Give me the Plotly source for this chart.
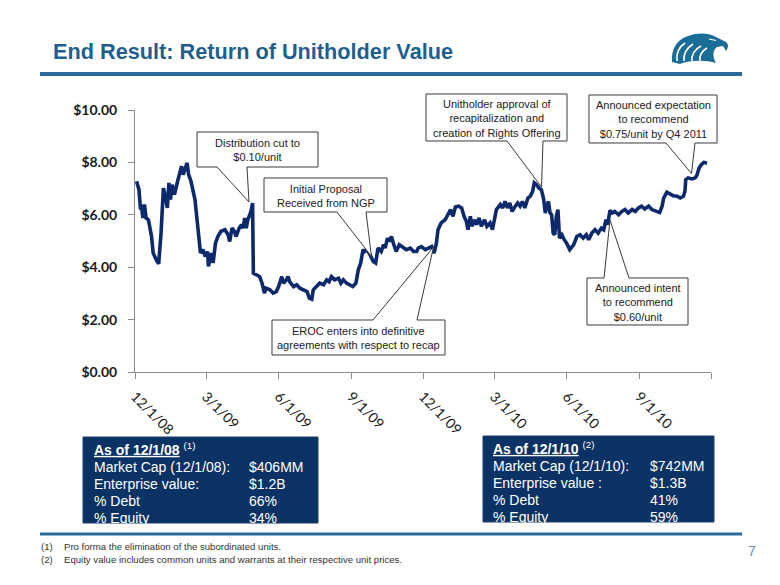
import plotly.graph_objects as go

# ---------------- data ----------------
dates = [
    "2008-12-03", "2008-12-06", "2008-12-08", "2008-12-09", "2008-12-11", "2008-12-13", "2008-12-15",
    "2008-12-18", "2008-12-22", "2008-12-24", "2008-12-28", "2008-12-31", "2009-01-03", "2009-01-06",
    "2009-01-08", "2009-01-11", "2009-01-13", "2009-01-15", "2009-01-17", "2009-01-20", "2009-01-24",
    "2009-01-27", "2009-01-29", "2009-01-31", "2009-02-03", "2009-02-05", "2009-02-07", "2009-02-10",
    "2009-02-15", "2009-02-19", "2009-02-22", "2009-02-25", "2009-02-28", "2009-03-03", "2009-03-04",
    "2009-03-08", "2009-03-10", "2009-03-13", "2009-03-16", "2009-03-20", "2009-03-25", "2009-03-29",
    "2009-03-31", "2009-04-03", "2009-04-06", "2009-04-08", "2009-04-12", "2009-04-15", "2009-04-17",
    "2009-04-19", "2009-04-21", "2009-04-23", "2009-04-27", "2009-04-29", "2009-04-30", "2009-05-04",
    "2009-05-08", "2009-05-11", "2009-05-14", "2009-05-16", "2009-05-21", "2009-05-25", "2009-05-29",
    "2009-06-01", "2009-06-05", "2009-06-07", "2009-06-11", "2009-06-13", "2009-06-15", "2009-06-20",
    "2009-06-24", "2009-06-28", "2009-07-02", "2009-07-07", "2009-07-10", "2009-07-13", "2009-07-15",
    "2009-07-19", "2009-07-23", "2009-07-28", "2009-08-01", "2009-08-04", "2009-08-07", "2009-08-11",
    "2009-08-16", "2009-08-19", "2009-08-22", "2009-08-26", "2009-08-30", "2009-09-03", "2009-09-07",
    "2009-09-10", "2009-09-13", "2009-09-16", "2009-09-18", "2009-09-21", "2009-09-25", "2009-09-29",
    "2009-10-02", "2009-10-05", "2009-10-09", "2009-10-12", "2009-10-14", "2009-10-17", "2009-10-19",
    "2009-10-22", "2009-10-25", "2009-10-28", "2009-11-01", "2009-11-05", "2009-11-10", "2009-11-15",
    "2009-11-19", "2009-11-23", "2009-11-25", "2009-11-29", "2009-12-04", "2009-12-08", "2009-12-12",
    "2009-12-15", "2009-12-18", "2009-12-20", "2009-12-24", "2009-12-29", "2010-01-02", "2010-01-05",
    "2010-01-08", "2010-01-11", "2010-01-15", "2010-01-19", "2010-01-22", "2010-01-25", "2010-01-27",
    "2010-01-30", "2010-02-01", "2010-02-04", "2010-02-07", "2010-02-10", "2010-02-13", "2010-02-17",
    "2010-02-20", "2010-02-24", "2010-02-27", "2010-03-01", "2010-03-04", "2010-03-09", "2010-03-12",
    "2010-03-15", "2010-03-18", "2010-03-21", "2010-03-24", "2010-03-28", "2010-03-31", "2010-04-03",
    "2010-04-06", "2010-04-09", "2010-04-13", "2010-04-16", "2010-04-19", "2010-04-21", "2010-04-24",
    "2010-04-27", "2010-04-30", "2010-05-03", "2010-05-05", "2010-05-07", "2010-05-09", "2010-05-11",
    "2010-05-13", "2010-05-15", "2010-05-17", "2010-05-19", "2010-05-21", "2010-05-23", "2010-05-26",
    "2010-05-29", "2010-06-01", "2010-06-05", "2010-06-10", "2010-06-14", "2010-06-18", "2010-06-22",
    "2010-06-26", "2010-06-29", "2010-07-03", "2010-07-07", "2010-07-11", "2010-07-15", "2010-07-18",
    "2010-07-21", "2010-07-23", "2010-07-26", "2010-07-29", "2010-08-01", "2010-08-06", "2010-08-10",
    "2010-08-14", "2010-08-18", "2010-08-23", "2010-08-27", "2010-08-31", "2010-09-04", "2010-09-08",
    "2010-09-13", "2010-09-17", "2010-09-23", "2010-09-27", "2010-09-30", "2010-10-02", "2010-10-06",
    "2010-10-10", "2010-10-14", "2010-10-19", "2010-10-23", "2010-10-27", "2010-10-29", "2010-10-30",
    "2010-11-02", "2010-11-07", "2010-11-11", "2010-11-13", "2010-11-16", "2010-11-19", "2010-11-22",
    "2010-11-26",
]
prices = [
    7.28, 6.96, 6.20, 6.39, 5.88, 6.39, 5.88,
    5.81, 5.17, 4.54, 4.28, 4.13, 5.30, 7.02,
    6.77, 6.26, 7.22, 6.58, 7.15, 6.77, 7.28,
    7.66, 7.85, 7.53, 7.85, 7.98, 7.53, 7.28,
    6.58, 5.43, 4.54, 4.67, 4.41, 4.60, 4.03,
    4.54, 4.16, 4.92, 5.17, 5.37, 5.43, 5.24,
    4.98, 5.49, 5.37, 5.17, 5.49, 5.62, 5.49,
    5.88, 5.49, 5.81, 6.13, 6.45, 3.77, 3.71,
    3.64, 3.39, 3.01, 3.20, 3.14, 3.01, 3.07,
    3.26, 3.64, 3.39, 3.52, 3.64, 3.45, 3.26,
    3.33, 3.20, 3.14, 3.07, 2.82, 2.78, 3.14,
    3.26, 3.39, 3.33, 3.52, 3.45, 3.64, 3.52,
    3.58, 3.39, 3.52, 3.39, 3.33, 3.26, 3.39,
    3.90, 4.16, 4.67, 4.60, 4.67, 4.47, 4.22,
    4.16, 4.73, 4.60, 4.86, 4.73, 5.11, 4.98,
    5.17, 4.86, 4.60, 4.86, 4.79, 4.67, 4.73,
    4.60, 4.60, 4.73, 4.79, 4.67, 4.73, 4.79,
    4.54, 4.92, 5.43, 5.69, 5.81, 6.07, 6.20,
    5.94, 6.30, 6.33, 6.26, 5.94, 5.75, 5.43,
    5.94, 5.56, 5.81, 5.62, 5.88, 5.56, 5.81,
    5.56, 5.69, 5.43, 5.81, 6.20, 6.39, 6.26,
    6.51, 6.26, 6.45, 6.13, 6.33, 6.45, 6.33,
    6.51, 6.26, 6.64, 6.71, 6.90, 7.22, 7.15,
    7.02, 6.96, 6.58, 6.07, 6.33, 6.51, 6.07,
    6.00, 5.30, 5.24, 5.94, 6.20, 5.11, 5.24,
    5.05, 4.92, 4.67, 4.86, 5.17, 5.24, 5.11,
    5.24, 5.05, 5.30, 5.43, 5.30, 5.49, 5.43,
    5.81, 5.62, 6.17, 6.07, 6.13, 6.00, 6.13,
    6.20, 6.07, 6.20, 6.13, 6.26, 6.33, 6.22,
    6.33, 6.20, 6.13, 6.09, 6.33, 6.64, 6.86,
    6.81, 6.73, 6.71, 6.64, 6.71, 6.90, 7.34,
    7.41, 7.37, 7.41, 7.50, 7.79, 7.92, 8.00,
    7.98,
]
tick_dates = ["2008-12-01", "2009-03-01", "2009-06-01", "2009-09-01", "2009-12-01",
              "2010-03-01", "2010-06-01", "2010-09-01"]
tick_labels = ["12/1/08", "3/1/09", "6/1/09", "9/1/09", "12/1/09", "3/1/10", "6/1/10", "9/1/10"]
end_tick = ["2010-12-01"]
y_ticks = [0, 2, 4, 6, 8, 10]
y_tick_labels = ["$0.00", "$2.00", "$4.00", "$6.00", "$8.00", "$10.00"]

callout_texts = [
    "Distribution cut to<br>$0.10/unit",
    "Initial Proposal<br>Received from NGP",
    "EROC enters into definitive<br>agreements with respect to recap",
    "Unitholder approval of<br>recapitalization and<br>creation of Rights Offering",
    "Announced expectation<br>to recommend<br>$0.75/unit by Q4 2011",
    "Announced intent<br>to recommend<br>$0.60/unit",
]

box1_title = "<b><u>As of 12/1/08</u></b> <sup>(1)</sup>"
box1_labels = ["Market Cap (12/1/08):", "Enterprise value:", "% Debt", "% Equity"]
box1_values = ["$406MM", "$1.2B", "66%", "34%"]
box2_title = "<b><u>As of 12/1/10</u></b> <sup>(2)</sup>"
box2_labels = ["Market Cap (12/1/10):", "Enterprise value :", "% Debt", "% Equity"]
box2_values = ["$742MM", "$1.3B", "41%", "59%"]

footnotes = ["Pro forma the elimination of the subordinated units.",
             "Equity value includes common units and warrants at their respective unit prices."]

# ---------------- layout helpers (reference pixel -> paper) ----------------
OFF = 8                      # default body margin of the html page
W, H = 780 - OFF, 585 - OFF
PL, PR, PT, PB = 135, 711, 110, 372   # plot area in page pixels


def fx(px):
    return (px - PL) / (PR - PL)


def fy(py):
    return (PB - py) / (PB - PT)


def path(points):
    s = ""
    for i, (px, py) in enumerate(points):
        s += ("M" if i == 0 else "L") + f"{fx(px):.5f},{fy(py):.5f} "
    return s + "Z"


TITLE_BLUE = "#1f5f8f"
RULE_BLUE = "#2a6a9b"
NAVY = "#0b3264"
LINE = "#0c2a6b"
FONT = "Liberation Sans, Arial, sans-serif"
AXFONT = "Lato, Carlito, Calibri, sans-serif"

fig = go.Figure()
fig.add_trace(go.Scatter(x=dates, y=prices, mode="lines",
                         line=dict(color=LINE, width=3.6), hoverinfo="skip", showlegend=False))

shapes = []
annotations = []

# title + rules
annotations.append(dict(text="<b>End Result: Return of Unitholder Value</b>", x=fx(51), y=fy(52),
                        xref="paper", yref="paper", xanchor="left", yanchor="middle", showarrow=False,
                        font=dict(family=FONT, size=21.7, color=TITLE_BLUE)))
shapes.append(dict(type="line", xref="paper", yref="paper", x0=fx(40), x1=fx(742), y0=fy(74), y1=fy(74),
                   line=dict(color=RULE_BLUE, width=4)))
shapes.append(dict(type="line", xref="paper", yref="paper", x0=fx(40), x1=fx(742), y0=fy(534), y1=fy(534),
                   line=dict(color=RULE_BLUE, width=3)))

# eagle logo
eagle = ("M{} C{} {} {} C{} {} {} L{} C{} {} {} L{} L{} C{} {} {} C{} {} {} Z")
pts = [(672, 62), (671, 50), (676, 40), (688, 36), (698, 32), (710, 33), (716, 37), (724, 41),
       (729, 43), (729, 47), (726, 51), (723, 46), (717, 47), (713, 50), (712, 56), (716, 63),
       (706, 60), (690, 60), (680, 64)]
ppts = [f"{fx(a):.5f},{fy(b):.5f}" for a, b in pts]
shapes.append(dict(type="path", xref="paper", yref="paper", path=eagle.format(*ppts),
                   fillcolor="#1a6d96", line=dict(width=0)))
for (a0, b0), (a1, b1), (a2, b2), (a3, b3) in [
        ((677, 61), (676, 53), (679, 47), (685, 43)),
        ((684, 61), (683, 54), (687, 48), (693, 44)),
        ((692, 61), (691, 55), (695, 49), (701, 46)),
        ((700, 61), (699, 56), (702, 51), (707, 48))]:
    shapes.append(dict(type="path", xref="paper", yref="paper",
                       path=f"M{fx(a0):.5f},{fy(b0):.5f} C{fx(a1):.5f},{fy(b1):.5f} {fx(a2):.5f},{fy(b2):.5f} {fx(a3):.5f},{fy(b3):.5f}",
                       line=dict(color="white", width=1.6)))
shapes.append(dict(type="path", xref="paper", yref="paper",
                   path=f"M{fx(709):.5f},{fy(39):.5f} L{fx(716):.5f},{fy(40.5):.5f}",
                   line=dict(color="white", width=1.2)))

# callouts: box (x0,y0,x1,y1), wedge side, wedge base x0/x1, tip
callouts = [
    ((197, 132, 318, 167), "bottom", 217, 247, (249, 202)),
    ((264, 178, 387, 212), "bottom", 337, 366, (371.5, 256.5)),
    ((272, 320, 445, 355), "top", 373, 417, (433.5, 247)),
    ((426, 94, 567, 141), "bottom", 507, 543, (541.5, 187)),
    ((589, 95, 717, 143), "bottom", 666, 695, (691.5, 173.5)),
    ((587, 278, 688, 325), "top", 604, 629, (610, 220)),
]
for (bx0, by0, bx1, by1), side, w0, w1, (tx, ty) in callouts:
    if side == "bottom":
        pts = [(bx0, by0), (bx1, by0), (bx1, by1), (w1, by1), (tx, ty), (w0, by1), (bx0, by1)]
    else:
        pts = [(bx0, by0), (w0, by0), (tx, ty), (w1, by0), (bx1, by0), (bx1, by1), (bx0, by1)]
    shapes.append(dict(type="path", xref="paper", yref="paper", path=path(pts),
                       fillcolor="white", line=dict(color="#3a3a3a", width=1)))
for ((bx0, by0, bx1, by1), *_), txt in zip(callouts, callout_texts):
    annotations.append(dict(text=txt, x=fx((bx0 + bx1) / 2), y=fy((by0 + by1) / 2 + 0.5),
                            xref="paper", yref="paper", xanchor="center", yanchor="middle",
                            showarrow=False, align="center",
                            font=dict(family=FONT, size=11, color="#222222")))

# info boxes
for (bx0, by0, bx1, by1), title, labels, values, tx, vx in [
        ((83, 437, 318, 523), box1_title, box1_labels, box1_values, 92, 247),
        ((483, 436, 714, 522), box2_title, box2_labels, box2_values, 491, 648)]:
    shapes.append(dict(type="rect", xref="paper", yref="paper", x0=fx(bx0), x1=fx(bx1),
                       y0=fy(by0), y1=fy(by1), fillcolor=NAVY, line=dict(color="#1c3f6e", width=1)))
    annotations.append(dict(text=title, x=fx(tx), y=fy(by0 + 12), xref="paper", yref="paper",
                            xanchor="left", yanchor="middle", showarrow=False,
                            font=dict(family=FONT, size=14, color="white")))
    for i, (lab, val) in enumerate(zip(labels, values)):
        yy = by0 + 29.5 + i * 17
        annotations.append(dict(text=lab, x=fx(tx), y=fy(yy), xref="paper", yref="paper",
                                xanchor="left", yanchor="middle", showarrow=False,
                                font=dict(family=FONT, size=14, color="white")))
        annotations.append(dict(text=val, x=fx(vx), y=fy(yy), xref="paper", yref="paper",
                                xanchor="left", yanchor="middle", showarrow=False,
                                font=dict(family=FONT, size=14, color="white")))

# footnotes
for i, fn in enumerate(footnotes):
    yy = 546 + i * 13
    annotations.append(dict(text=f"({i + 1})", x=fx(39), y=fy(yy), xref="paper", yref="paper",
                            xanchor="left", yanchor="middle", showarrow=False,
                            font=dict(family=FONT, size=9.6, color="#333333")))
    annotations.append(dict(text=fn, x=fx(62), y=fy(yy), xref="paper", yref="paper",
                            xanchor="left", yanchor="middle", showarrow=False,
                            font=dict(family=FONT, size=9.6, color="#333333")))
annotations.append(dict(text="7", x=fx(752), y=fy(551), xref="paper", yref="paper",
                        xanchor="center", yanchor="middle", showarrow=False,
                        font=dict(family=FONT, size=14, color="#6a8db3")))

fig.update_layout(
    width=W, height=H,
    margin=dict(l=PL - OFF, r=780 - PR, t=PT - OFF, b=585 - PB, autoexpand=False),
    paper_bgcolor="white", plot_bgcolor="white",
    shapes=shapes, annotations=annotations, showlegend=False,
    xaxis=dict(type="date", range=["2008-12-01", "2010-12-01"], tickvals=tick_dates, ticktext=tick_labels,
               tickangle=45, ticks="outside", ticklen=6, tickcolor="#8c8c8c", showline=True,
               linecolor="#8c8c8c", linewidth=1, showgrid=False, zeroline=False, ticklabelstandoff=4,
               minor=dict(tickvals=end_tick, ticks="outside", ticklen=6, tickcolor="#8c8c8c", showgrid=False),
               tickfont=dict(family=AXFONT, size=14, color="#1a1a1a"), automargin=False),
    yaxis=dict(range=[0, 10], tickvals=y_ticks, ticktext=y_tick_labels,
               ticks="outside", ticklen=6, tickcolor="#8c8c8c", showline=True, linecolor="#8c8c8c",
               linewidth=1, showgrid=False, zeroline=False, ticklabelstandoff=8,
               tickfont=dict(family=AXFONT, size=14, color="#1a1a1a", weight="bold"), automargin=False),
)

fig.write_html("out.html")
